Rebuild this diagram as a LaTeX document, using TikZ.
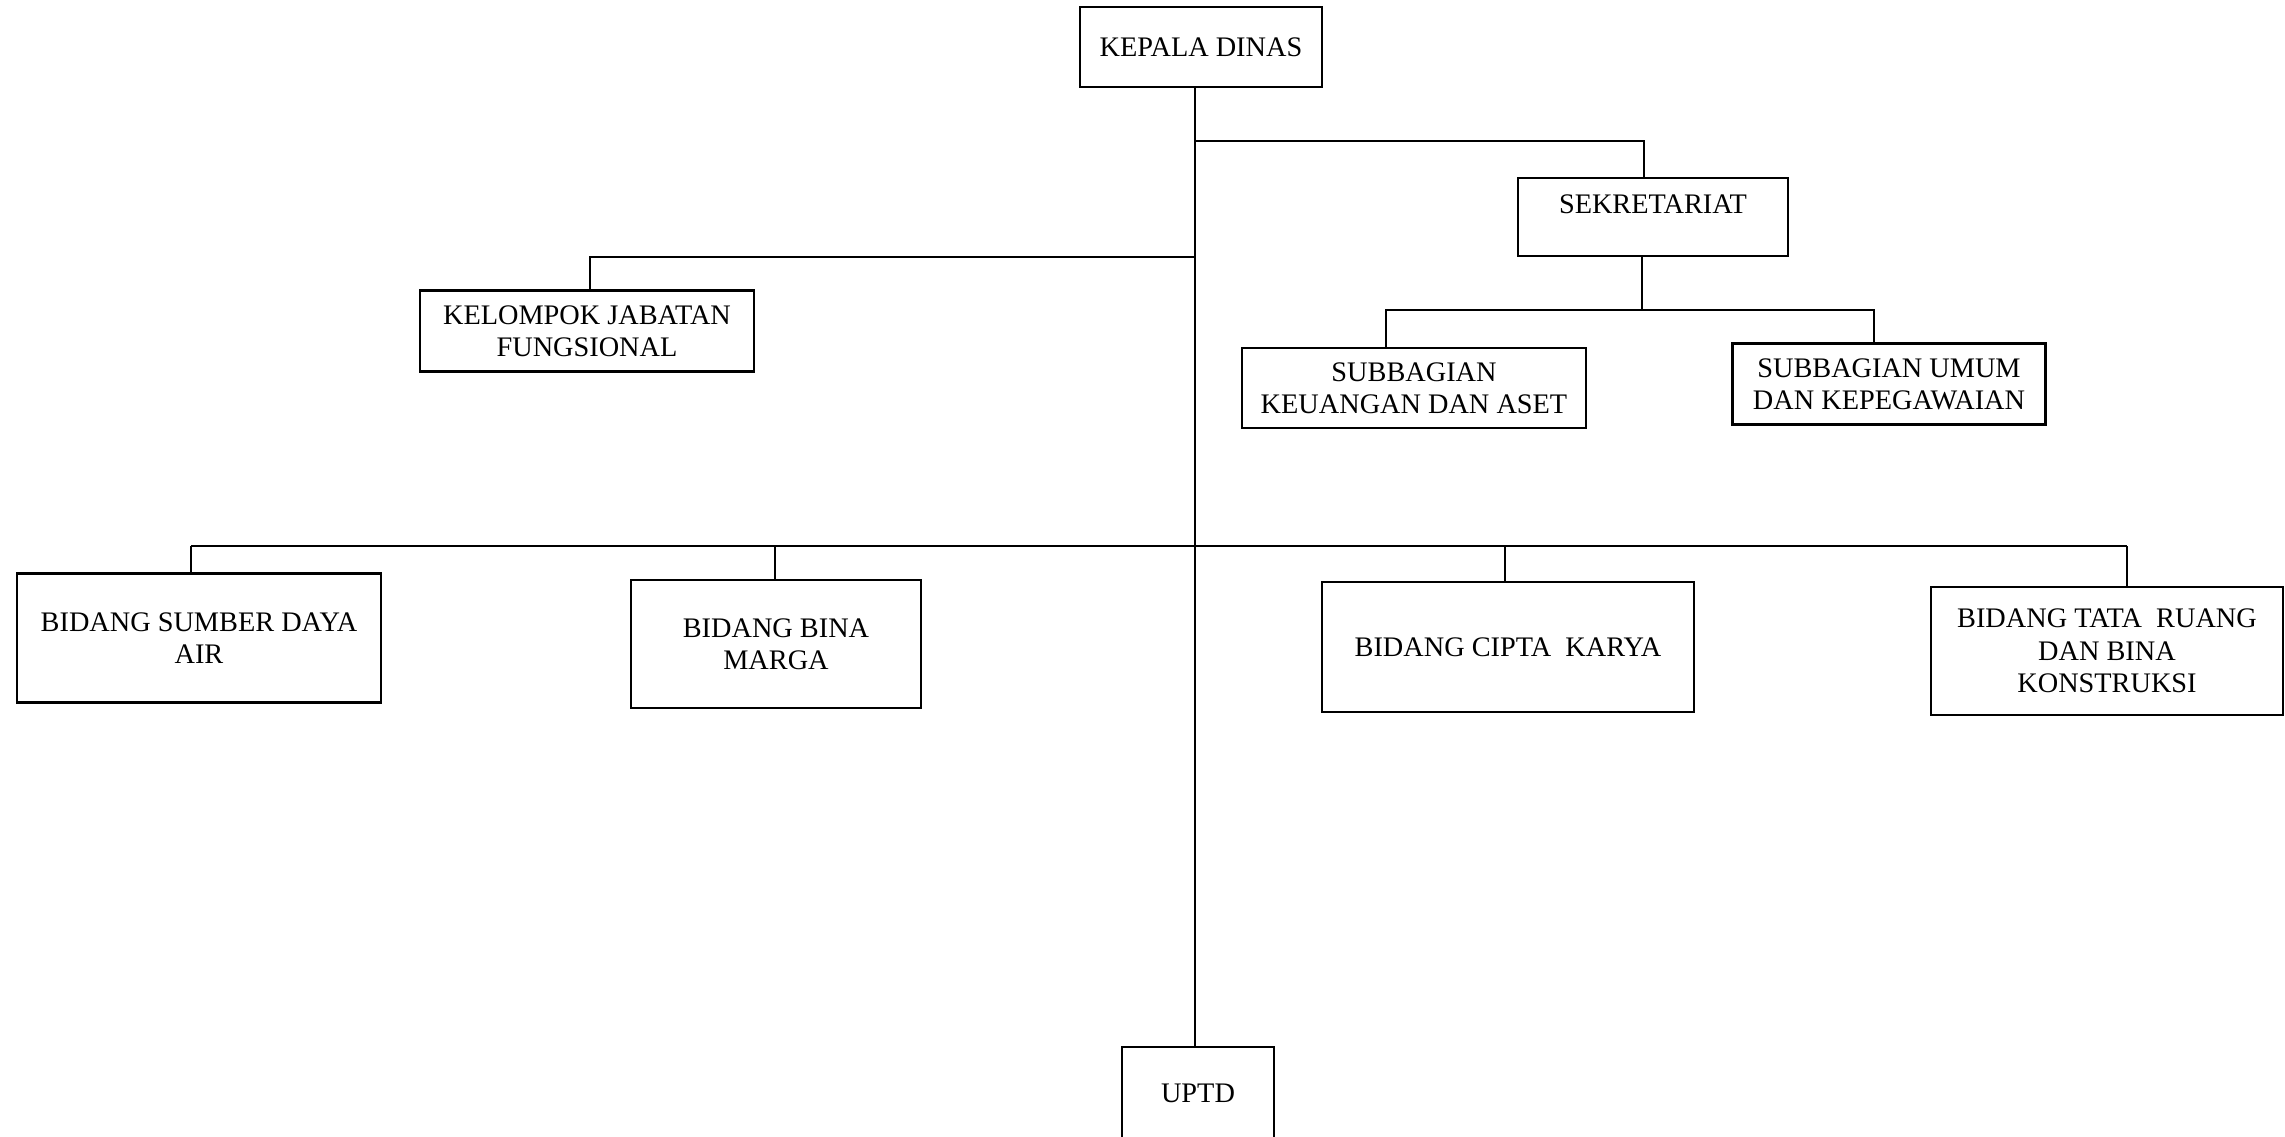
\documentclass[tikz,border=0pt]{standalone}
\usepackage{fontspec}
\setmainfont{Liberation Serif}
\begin{document}
\begin{tikzpicture}[x=1pt,y=-1pt,
  unit/.style={draw, line width=2.4pt, align=center, inner sep=0pt, text depth=0pt,
    font=\fontsize{28.3}{32.5}\selectfont},
  link/.style={line width=1.6pt}]
\useasboundingbox (0,0) rectangle (2285,1137);

% --- units ---
\node[unit, minimum width=242, minimum height=80] (kd) at (1201,47) {KEPALA DINAS};
\node[unit, minimum width=270, minimum height=78] (sek) at (1653,217) {\raisebox{26pt}{SEKRETARIAT}};
\node[unit, minimum width=344, minimum height=80] (keu) at (1414,388) {SUBBAGIAN\\KEUANGAN DAN ASET};
\node[unit, minimum width=313, minimum height=81] (umum) at (1889,384) {SUBBAGIAN UMUM\\DAN KEPEGAWAIAN};
\node[unit, minimum width=334, minimum height=81] (kjf) at (587,331) {KELOMPOK JABATAN\\FUNGSIONAL};
\node[unit, minimum width=364, minimum height=129] (sda) at (199,638) {BIDANG SUMBER DAYA\\AIR};
\node[unit, minimum width=290, minimum height=128] (bm) at (776,644) {BIDANG BINA\\MARGA};
\node[unit, minimum width=372, minimum height=130] (ck) at (1508,647) {BIDANG CIPTA~ KARYA};
\node[unit, minimum width=352, minimum height=128] (tr) at (2107,651) {BIDANG TATA~ RUANG\\DAN BINA\\KONSTRUKSI};
\node[unit, minimum width=152, minimum height=92] (uptd) at (1198,1093) {UPTD};

% --- trunk ---
\coordinate (trunk) at (1195,0);
\draw[link] (kd.south -| trunk) -- (uptd.north -| trunk);

% --- secretariat branch ---
\coordinate (sekj) at (1195,141);
\coordinate (sekd) at (1644,141);
\draw[link] (sekj) -- (sekd) -- (sekd |- sek.north);

\coordinate (subm) at (1642,310);
\coordinate (subl) at (1386,310);
\coordinate (subr) at (1874,310);
\draw[link] (subm |- sek.south) -- (subm);
\draw[link] (subl |- keu.north) -- (subl) -- (subr) -- (subr |- umum.north);

% --- functional group branch ---
\coordinate (kjfj) at (1195,257);
\coordinate (kjfd) at (590,257);
\draw[link] (kjfj) -- (kjfd) -- (kjfd |- kjf.north);

% --- divisions bus ---
\coordinate (b1) at (191,546);
\coordinate (b2) at (775,546);
\coordinate (b3) at (1505,546);
\coordinate (b4) at (2127,546);
\draw[link] (b1) -- (b4);
\draw[link] (b1) -- (b1 |- sda.north);
\draw[link] (b2) -- (b2 |- bm.north);
\draw[link] (b3) -- (b3 |- ck.north);
\draw[link] (b4) -- (b4 |- tr.north);
\end{tikzpicture}
\end{document}
